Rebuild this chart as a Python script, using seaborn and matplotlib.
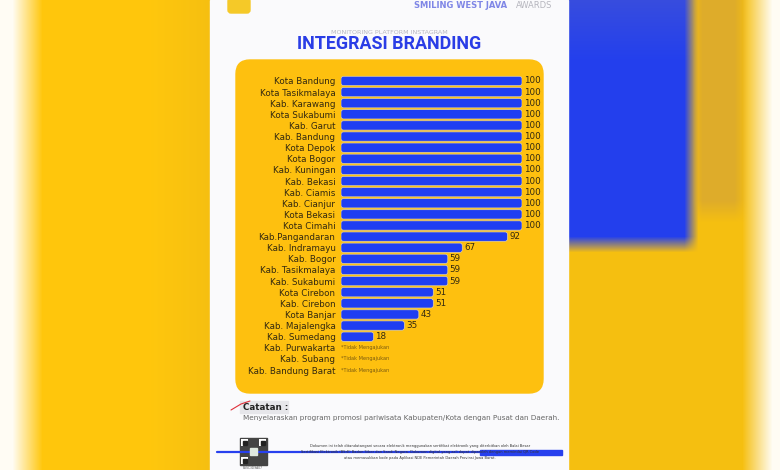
import numpy as np
import pandas as pd
import matplotlib
matplotlib.use("Agg")
import matplotlib.pyplot as plt
from matplotlib.patches import Rectangle, FancyBboxPatch
import seaborn as sns

# data read from the infographic
daerah = ["Kota Bandung", "Kota Tasikmalaya", "Kab. Karawang", "Kota Sukabumi",
          "Kab. Garut", "Kab. Bandung", "Kota Depok", "Kota Bogor", "Kab. Kuningan",
          "Kab. Bekasi", "Kab. Ciamis", "Kab. Cianjur", "Kota Bekasi", "Kota Cimahi",
          "Kab.Pangandaran", "Kab. Indramayu", "Kab. Bogor", "Kab. Tasikmalaya",
          "Kab. Sukabumi", "Kota Cirebon", "Kab. Cirebon", "Kota Banjar",
          "Kab. Majalengka", "Kab. Sumedang", "Kab. Purwakarta", "Kab. Subang",
          "Kab. Bandung Barat"]
nilai = [100, 100, 100, 100, 100, 100, 100, 100, 100, 100, 100, 100, 100, 100,
         92, 67, 59, 59, 59, 51, 51, 43, 35, 18, np.nan, np.nan, np.nan]
catatan_kosong = "*Tidak Mengajukan"

df = pd.DataFrame({"daerah": daerah, "nilai": nilai})

W, H = 780, 470
sns.set_theme(style="white")
plt.rcParams["font.family"] = ["DejaVu Sans"]

fig = plt.figure(figsize=(7.8, 4.7), dpi=100)

#background (blurred photo around the page)
bg = fig.add_axes([0, 0, 1, 1])
bg.set_xlim(0, W)
bg.set_ylim(H, 0)
bg.axis("off")
xx = np.arange(W)[None, :]
yy = np.arange(H)[:, None]
yellow = np.array([1.0, 0.78, 0.05])
img = np.ones((H, W, 3)) * yellow
# left fade to white
t = np.clip((xx - 12) / 30.0, 0, 1)[..., None]
img = img * t + (1 - t) * np.array([1.0, 0.99, 0.96])
# darker gold near page on the left
t = np.clip((xx - 150) / 60.0, 0, 1)[..., None] * 0.3
img = img * (1 - t) + t * np.array([0.88, 0.68, 0.1])
# blue block on right
bx = np.clip((698 - xx) / 14.0, 0, 1) * (xx >= 569)
by = np.clip((252 - yy) / 16.0, 0, 1)
t = (bx * by)[..., None]
blue = np.array([0.14, 0.25, 0.93]) * (1 - np.clip((60 - yy) / 60.0, 0, 1)[..., None] * 0.25) \
    + np.array([0.45, 0.45, 0.7]) * np.clip((60 - yy) / 60.0, 0, 1)[..., None] * 0.25
img = img * (1 - t) + t * blue
# gold strip right of blue
gx = np.clip((xx - 692) / 10.0, 0, 1) * np.clip((748 - xx) / 14.0, 0, 1)
gy = np.clip((222 - yy) / 22.0, 0, 1)
t = (gx * gy * 0.75)[..., None]
img = img * (1 - t) + t * np.array([0.84, 0.65, 0.2])
# right fade to white
t = np.clip((xx - 742) / 30.0, 0, 1)[..., None]
img = img * (1 - t) + t * np.array([1.0, 0.99, 0.96])
bg.imshow(img, extent=[0, W, H, 0], aspect="auto", zorder=0)

# page
bg.add_patch(Rectangle((210, 0), 358, H, color="#fafafc", zorder=1))
# yellow panel
bg.add_patch(FancyBboxPatch((236 + 14, 60 + 14), 307 - 28, 333 - 28,
                            boxstyle="round,pad=14", color="#fec00f", zorder=2))
# logo blob
bg.add_patch(FancyBboxPatch((231, 1), 16, 9, boxstyle="round,pad=3",
                            color="#f5c928", zorder=2))

# header texts
bg.text(552, 6, "AWARDS", ha="right", va="center", fontsize=6,
        color="#b5b5bd", zorder=3)
bg.text(510, 6, "SMILING WEST JAVA ", ha="right", va="center", fontsize=6,
        fontweight="bold", color="#7f86e6", zorder=3)
bg.text(389, 32, "MONITORING PLATFORM INSTAGRAM", ha="center", va="center",
        fontsize=4.6, color="#b8b8bf", zorder=3)
bg.text(389, 44, "INTEGRASI BRANDING", ha="center", va="center", fontsize=12.9,
        fontweight="bold", family=["Roboto", "DejaVu Sans"], color="#2a3de6", zorder=3)

# footer
bg.add_patch(Rectangle((240, 401), 48, 12, color="#e6e6ea", zorder=2))
bg.plot([231, 241, 250], [410, 404, 401], color="#e0303a", lw=0.8, zorder=3)
bg.text(243, 407, "Catatan :", ha="left", va="center", fontsize=6.3,
        fontweight="bold", color="#222222", zorder=3)
bg.text(243, 418, "Menyelaraskan program promosi pariwisata Kabupaten/Kota dengan Pusat dan Daerah.",
        ha="left", va="center", fontsize=5.2, color="#666666", zorder=3)

bg.add_patch(Rectangle((240, 438), 27, 27, color="#444444", zorder=2))
for qx, qy in [(241, 439), (259, 439), (241, 457)]:
    bg.add_patch(Rectangle((qx, qy), 7, 7, facecolor="white", edgecolor="none", zorder=3))
    bg.add_patch(Rectangle((qx + 1.5, qy + 1.5), 4, 4, color="#222222", zorder=4))
bg.add_patch(Rectangle((250, 448), 7, 7, color="#dfe8df", zorder=3))
bg.text(253, 468, "BSSC3D9A07", ha="center", va="center", fontsize=2.2,
        color="#555555", zorder=3)

bg.plot([217, 562], [452, 452], color="#2740ee", lw=1.6, zorder=2)
bg.add_patch(Rectangle((480, 449.5), 82, 5, color="#2740ee", zorder=2))
bg.text(420, 446, "Dokumen ini telah ditandatangani secara elektronik menggunakan sertifikat "
        "elektronik yang diterbitkan oleh Balai Besar", ha="center", va="center",
        fontsize=2.6, color="#333333", zorder=3)
bg.text(420, 452, "Sertifikasi Elektronik (BSrE) Badan Siber dan Sandi Negara. Dokumen digital "
        "yang asli dapat diperoleh dengan memindai QR Code", ha="center", va="center",
        fontsize=2.6, color="#333333", zorder=3)
bg.text(420, 458, "atau memasukkan kode pada Aplikasi NDE Pemerintah Daerah Provinsi Jawa Barat.",
        ha="center", va="center", fontsize=2.6, color="#333333", zorder=3)

#main bar chart
ax = fig.add_axes([341 / W, 1 - 375.6 / H, 181 / W, (375.6 - 75.4) / H])
ax.set_facecolor("none")
sns.barplot(data=df, y="daerah", x="nilai", orient="h", color="#1f3ef2",
            saturation=1, width=0.84, ax=ax)
ax.set_xlim(0, 100)
ax.set_ylim(len(daerah) - 0.5, -0.5)

# rounded bar ends
xpx = ax.get_position().width * W / 100
ypx = ax.get_position().height * H / len(daerah)
for p in list(ax.patches):
    x0, y0 = p.get_x(), p.get_y()
    w, h = p.get_width(), p.get_height()
    if np.isnan(w) or w == 0:
        p.remove()
        continue
    r = 2.5 / xpx
    fb = FancyBboxPatch((x0, y0), w, h,
                        boxstyle="round,pad=0,rounding_size=%f" % r,
                        mutation_aspect=xpx / ypx,
                        facecolor="#1f3ef2", edgecolor="#e3d2a2", lw=0.5)
    ax.add_patch(fb)
    p.remove()

for i, v in enumerate(nilai):
    if np.isnan(v):
        ax.text(0, i, catatan_kosong, ha="left", va="center", fontsize=3.6,
                color="#7a5a10")
    else:
        ax.text(v + 1, i, "%d" % v, ha="left", va="center", fontsize=6.3,
                color="#33290f", clip_on=False)

ax.set_xlabel("")
ax.set_ylabel("")
ax.set_xticks([])
ax.tick_params(axis="y", length=0, pad=4, labelsize=6.3, labelcolor="#33290f")
for s in ax.spines.values():
    s.set_visible(False)

fig.savefig("out.png", dpi=100)
